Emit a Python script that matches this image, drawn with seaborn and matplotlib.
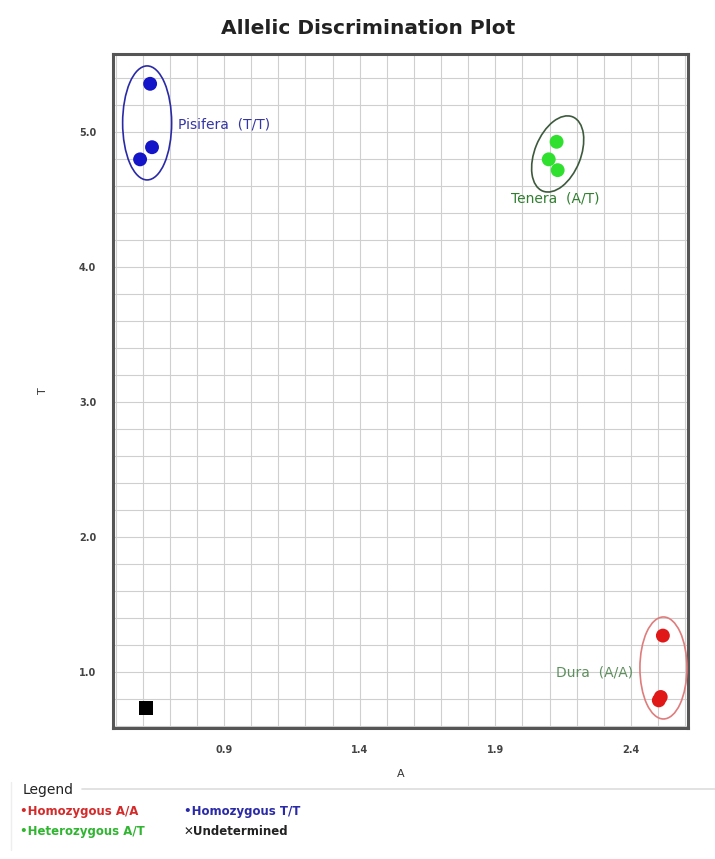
import matplotlib
matplotlib.use('Agg')
import matplotlib.pyplot as plt
import matplotlib.transforms as mtransforms
from matplotlib.patches import Ellipse
from matplotlib.ticker import MultipleLocator, FixedLocator
import pandas as pd
import seaborn as sns

# allele A signal (x) and allele T signal (y) per sample
sample_call = ['Homozygous T/T', 'Homozygous T/T', 'Homozygous T/T',
               'Heterozygous A/T', 'Heterozygous A/T', 'Heterozygous A/T',
               'Homozygous A/A', 'Homozygous A/A', 'Homozygous A/A',
               'Undetermined']
allele_a = [0.627, 0.634, 0.590, 2.126, 2.097, 2.130, 2.518, 2.510, 2.503, 0.612]
allele_t = [5.36, 4.89, 4.80, 4.93, 4.80, 4.72, 1.27, 0.815, 0.79, 0.73]

x_ticks = [0.9, 1.4, 1.9, 2.4]
y_ticks = [1.0, 2.0, 3.0, 4.0, 5.0]

# cluster annotations
cluster_names = ['Pisifera  (T/T)', 'Tenera  (A/T)', 'Dura  (A/A)']
cluster_cx = [0.616, 2.13, 2.52]
cluster_cy = [5.07, 4.84, 1.03]
cluster_w = [0.49, 0.46, 0.47]   # inches
cluster_h = [1.14, 0.80, 1.02]   # inches
cluster_angle = [0, -22, 0]
cluster_edge = ['#2a2aa8', '#3d5a3d', '#e07c7c']
label_x = [0.73, 2.12, 2.41]
label_y = [5.06, 4.51, 1.0]
label_ha = ['left', 'center', 'right']
label_color = ['#3535a5', '#2f7f2f', '#5f8f5f']

palette = {'Homozygous A/A': '#e01818', 'Homozygous T/T': '#1414c8',
           'Heterozygous A/T': '#2fe02f', 'Undetermined': '#000000'}
markers = {'Homozygous A/A': 'o', 'Homozygous T/T': 'o',
           'Heterozygous A/T': 'o', 'Undetermined': 's'}

df = pd.DataFrame({'A': allele_a, 'T': allele_t, 'Call': sample_call})

sns.set_style('white')
fig = plt.figure(figsize=(7.15, 8.59), dpi=100)
ax = fig.add_axes([0.158, 0.1525, 0.804, 0.7845])

sns.scatterplot(data=df, x='A', y='T', hue='Call', style='Call', palette=palette,
                markers=markers, s=100, edgecolor='none', legend=False, ax=ax, zorder=3)

for i in range(len(cluster_names)):
    tr = fig.dpi_scale_trans + mtransforms.ScaledTranslation(cluster_cx[i], cluster_cy[i], ax.transData)
    ax.add_patch(Ellipse((0, 0), cluster_w[i], cluster_h[i], angle=cluster_angle[i],
                         transform=tr, fill=False, edgecolor=cluster_edge[i], lw=1.2, zorder=4))
    ax.text(label_x[i], label_y[i], cluster_names[i], ha=label_ha[i], va='center',
            fontsize=10, color=label_color[i], zorder=5)

ax.set_xlim(0.49, 2.61)
ax.set_ylim(0.585, 5.58)
ax.xaxis.set_major_locator(FixedLocator(x_ticks))
ax.xaxis.set_minor_locator(MultipleLocator(0.1))
ax.yaxis.set_major_locator(FixedLocator(y_ticks))
ax.yaxis.set_minor_locator(MultipleLocator(0.2))
ax.set_xticklabels([f'{v:.1f}' for v in x_ticks], fontsize=7, color='#444444', fontweight='bold')
ax.set_yticklabels([f'{v:.1f}' for v in y_ticks], fontsize=7, color='#444444', fontweight='bold')
ax.tick_params(which='both', direction='out', length=4, width=0.6, color='#999999', pad=8)
ax.grid(which='both', color='#cfcfcf', lw=0.8)
ax.set_axisbelow(True)
for sp in ax.spines.values():
    sp.set_color('#555555')
    sp.set_linewidth(2.2)

ax.set_xlabel('A', fontsize=8, color='#333333', labelpad=10)
ax.set_ylabel('T', fontsize=8, color='#333333', labelpad=22)

fig.text(0.515, 0.967, 'Allelic Discrimination Plot', ha='center', va='center',
         fontsize=14.5, fontweight='bold', color='#222222')

# legend panel under the plot
fig.text(0.031, 0.080, 'Legend', ha='left', va='center', fontsize=10, color='#222222')
fig.add_artist(plt.Line2D([0.115, 1.0], [0.081, 0.081], color='#dddddd', lw=1.2))
fig.add_artist(plt.Line2D([0.016, 0.016], [0.01, 0.09], color='#eeeeee', lw=1.0))
leg_text = ['\u2022Homozygous A/A', '\u2022Homozygous T/T', '\u2022Heterozygous A/T', '\u2715Undetermined']
leg_x = [0.028, 0.258, 0.028, 0.256]
leg_y = [0.055, 0.055, 0.032, 0.032]
leg_col = ['#d42a2a', '#2a2aa8', '#2fb52f', '#222222']
for t, lx, ly, c in zip(leg_text, leg_x, leg_y, leg_col):
    fig.text(lx, ly, t, ha='left', va='center', fontsize=8.5, fontweight='bold', color=c)

fig.savefig('out.png', dpi=100)
